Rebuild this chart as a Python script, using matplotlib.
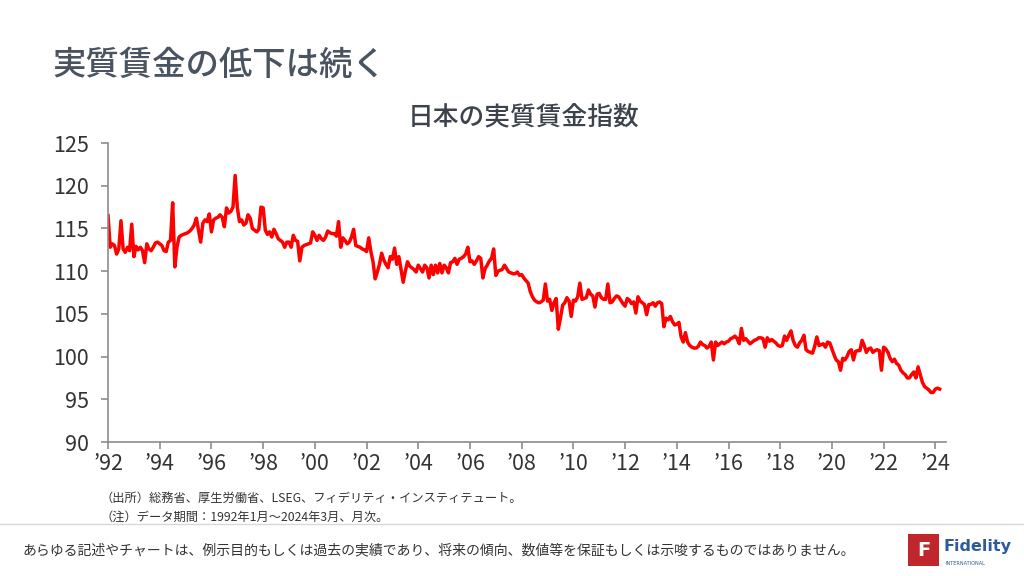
import matplotlib
matplotlib.use("Agg")
import matplotlib.pyplot as plt
from matplotlib.patches import Rectangle
import numpy as np

plt.rcParams['font.family'] = ['Noto Sans CJK JP', 'DejaVu Sans']

wages_by_year = {
    1992: [116.5, 112.8, 113.2, 113.0, 112.0, 112.6, 115.9, 112.6, 112.2, 112.8, 112.4, 115.5],
    1993: [111.7, 112.9, 112.5, 112.8, 112.4, 111.0, 113.2, 112.6, 112.4, 112.8, 113.3, 113.4],
    1994: [113.2, 113.0, 112.4, 112.3, 113.4, 113.6, 118.0, 110.5, 112.8, 114.0, 114.2, 114.3],
    1995: [114.4, 114.5, 114.7, 115.0, 115.4, 116.2, 114.8, 113.4, 115.6, 116.0, 115.8, 116.7],
    1996: [114.6, 116.0, 116.2, 116.3, 116.6, 116.3, 115.2, 117.4, 116.8, 117.0, 117.5, 121.2],
    1997: [117.5, 115.8, 116.0, 115.4, 115.6, 116.6, 116.2, 115.0, 114.8, 114.6, 114.9, 117.5],
    1998: [117.4, 114.8, 114.3, 114.6, 114.0, 114.9, 114.4, 113.8, 113.6, 113.4, 112.8, 113.4],
    1999: [113.4, 112.8, 114.2, 113.6, 113.5, 111.2, 112.8, 113.0, 113.1, 113.2, 113.3, 114.6],
    2000: [114.2, 113.6, 114.2, 113.8, 113.6, 114.0, 114.7, 114.5, 114.4, 114.4, 114.1, 115.8],
    2001: [112.8, 113.9, 113.6, 113.2, 113.4, 114.0, 114.9, 113.0, 112.9, 112.8, 112.6, 112.5],
    2002: [112.3, 113.9, 112.3, 111.1, 109.1, 109.9, 110.8, 112.1, 111.3, 110.8, 110.4, 111.7],
    2003: [111.4, 112.7, 110.8, 111.7, 110.2, 108.7, 110.0, 111.1, 110.6, 110.4, 110.2, 109.9],
    2004: [110.7, 110.3, 109.9, 110.7, 110.4, 109.2, 110.7, 109.6, 110.7, 109.8, 110.9, 109.8],
    2005: [110.7, 110.4, 109.8, 111.0, 111.1, 111.5, 110.8, 111.4, 111.5, 111.7, 112.0, 112.8],
    2006: [111.1, 111.2, 110.8, 111.2, 111.7, 111.5, 109.2, 110.3, 110.7, 111.2, 111.5, 112.6],
    2007: [109.5, 110.0, 110.1, 110.2, 110.7, 110.3, 109.9, 109.8, 109.7, 109.7, 109.9, 109.5],
    2008: [109.6, 109.2, 108.9, 108.6, 107.6, 107.0, 106.6, 106.4, 106.3, 106.4, 106.6, 108.5],
    2009: [106.5, 106.7, 105.4, 106.3, 106.8, 103.2, 104.5, 106.0, 106.3, 106.9, 106.5, 104.7],
    2010: [106.6, 106.5, 107.0, 108.6, 106.7, 106.8, 106.9, 107.8, 107.3, 107.1, 105.8, 107.3],
    2011: [107.4, 106.9, 106.7, 106.7, 108.5, 106.3, 106.4, 106.8, 107.1, 107.0, 106.6, 106.2],
    2012: [105.9, 106.8, 106.6, 106.2, 106.4, 105.1, 107.0, 106.5, 106.3, 106.1, 104.9, 106.1],
    2013: [106.1, 106.3, 105.9, 106.3, 106.4, 106.2, 103.5, 104.5, 104.3, 104.7, 104.1, 103.7],
    2014: [103.8, 104.0, 102.3, 101.7, 102.8, 101.7, 101.3, 101.1, 101.0, 101.0, 101.2, 101.7],
    2015: [101.4, 101.3, 101.0, 101.2, 101.7, 99.6, 101.7, 101.3, 101.5, 101.7, 101.5, 101.7],
    2016: [101.8, 102.1, 102.2, 102.4, 102.1, 101.5, 103.3, 101.9, 102.1, 101.8, 101.5, 101.7],
    2017: [101.9, 102.0, 102.2, 102.2, 102.1, 101.1, 102.2, 101.8, 102.0, 101.8, 101.6, 101.3],
    2018: [101.2, 101.3, 102.4, 101.9, 102.5, 103.0, 101.9, 101.3, 101.1, 101.6, 101.9, 102.5],
    2019: [100.8, 100.6, 100.5, 100.4, 101.2, 102.3, 101.3, 101.4, 101.5, 101.1, 101.7, 101.6],
    2020: [100.9, 100.2, 99.6, 99.4, 98.4, 99.8, 99.6, 100.0, 100.6, 100.8, 99.6, 100.6],
    2021: [100.7, 100.7, 101.9, 101.3, 100.5, 100.9, 101.0, 100.5, 100.7, 100.8, 100.7, 98.4],
    2022: [101.1, 100.9, 100.5, 99.8, 99.4, 99.7, 99.2, 99.0, 98.4, 98.1, 97.9, 97.5],
    2023: [97.5, 97.9, 98.2, 97.5, 98.8, 97.9, 97.0, 96.5, 96.3, 96.1, 95.8, 95.8],
    2024: [96.2, 96.3, 96.2],
}

tick_years = list(range(1992, 2025, 2))
tick_labels = ["\u2019%02d" % (y % 100) for y in tick_years]
y_ticks = [90, 95, 100, 105, 110, 115, 120, 125]

title = "実質賃金の低下は続く"
subtitle = "日本の実質賃金指数"
source_note = "（出所）総務省、厚生労働省、LSEG、フィデリティ・インスティテュート。"
data_note = "（注）データ期間：1992年1月～2024年3月、月次。"
disclaimer = "あらゆる記述やチャートは、例示目的もしくは過去の実績であり、将来の傾向、数値等を保証もしくは示唆するものではありません。"

values = []
dates = []
for yr, vals in wages_by_year.items():
    for m, v in enumerate(vals):
        dates.append(yr + m / 12)
        values.append(v)

fig = plt.figure(figsize=(10.24, 5.76), dpi=100)
ax = fig.add_axes([0.1055, 0.2326, 0.818, 0.5191])

ax.plot(dates, values, color="#ff0000", lw=2.5, solid_joinstyle="round")

ax.set_xlim(1992, 2024.4)
ax.set_ylim(90, 125)
ax.set_xticks(tick_years)
ax.set_xticklabels(tick_labels)
ax.set_yticks(y_ticks)

for s in ["top", "right"]:
    ax.spines[s].set_visible(False)
for s in ["left", "bottom"]:
    ax.spines[s].set_color("#8c8c8c")
    ax.spines[s].set_linewidth(1.2)
ax.tick_params(axis="x", length=5, width=1.2, color="#8c8c8c", pad=3,
               labelsize=15.5, labelcolor="#333333")
ax.tick_params(axis="y", length=5, width=1.2, color="#8c8c8c", pad=9,
               labelsize=15.5, labelcolor="#333333")

fig.text(0.051, 0.887, title, fontsize=24, fontweight="medium", color="#4a5361",
         va="center", ha="left")
fig.text(0.511, 0.795, subtitle, fontsize=18.5, fontweight="medium", color="#3d434d",
         va="center", ha="center")

fig.text(0.098, 0.135, source_note, fontsize=8.8, color="#333333", va="center")
fig.text(0.098, 0.102, data_note, fontsize=8.8, color="#333333", va="center")

fig.add_artist(plt.Line2D([0, 1], [0.09, 0.09], color="#d9d9d9", lw=1,
                          transform=fig.transFigure))
fig.text(0.022, 0.045, disclaimer, fontsize=10, color="#333333", va="center")

# logo
fig.add_artist(Rectangle((0.887, 0.018), 0.030, 0.055, transform=fig.transFigure,
                         facecolor="#c0272d", edgecolor="none"))
fig.text(0.902, 0.045, "F", fontsize=14, fontweight="bold", color="white",
         ha="center", va="center", family="DejaVu Sans")
fig.text(0.921, 0.052, "Fidelity", fontsize=11.5, fontweight="bold", color="#2d5a9b",
         ha="left", va="center", family="DejaVu Sans")
fig.text(0.923, 0.021, "INTERNATIONAL", fontsize=3.6, color="#2d5a9b",
         ha="left", va="center", family="DejaVu Sans")

fig.savefig("out.png", dpi=100)
